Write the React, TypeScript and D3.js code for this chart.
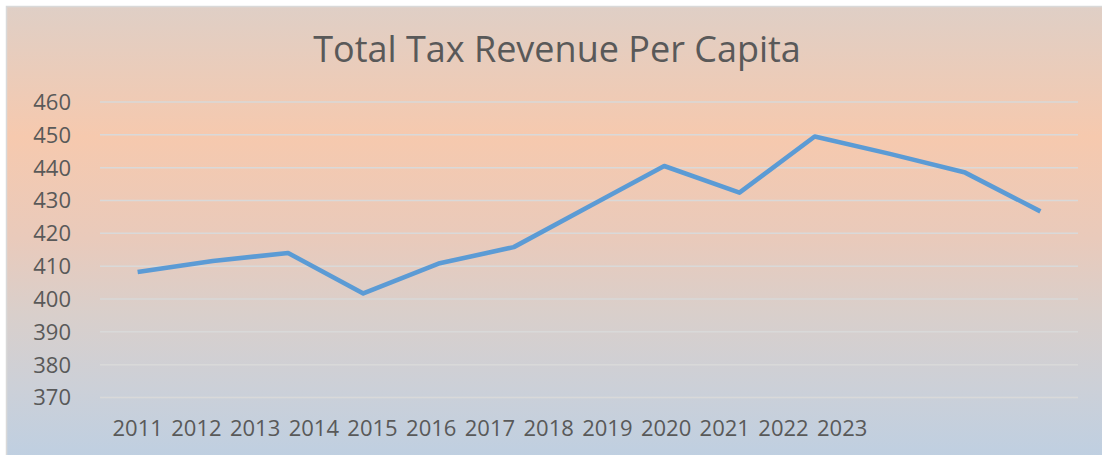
import React from "react";
import * as d3 from "d3";

const years = ["2011","2012","2013","2014","2015","2016","2017","2018","2019","2020","2021","2022","2023"];
const revenue = [408.2, 411.6, 414.0, 401.7, 410.8, 415.8, 428.2, 440.5, 432.4, 449.5, 444.2, 438.5, 426.7];
const yTicks = [370, 380, 390, 400, 410, 420, 430, 440, 450, 460];
const title = "Total Tax Revenue Per Capita";

const W = 1102;
const H = 455;

export default function App() {
  const x = d3.scaleBand<string>().domain(years).range([100, 1078]);
  const y = d3.scaleLinear().domain([370, 460]).range([397.5, 102]);
  // category labels are packed closer than the plot categories in the reference
  const xl = d3.scalePoint<string>().domain(years).range([137.7, 842.2]);

  const line = d3
    .line<number>()
    .x((_, i) => (x(years[i]) as number) + x.bandwidth() / 2)
    .y((d) => y(d));

  const font = "'Open Sans', 'Noto Sans', sans-serif";
  const textColor = "#595959";

  return (
    <svg width={W} height={H} style={{ position: "absolute", left: 0, top: 0 }}>
      <defs>
        <linearGradient id="bg" x1="0" y1="0" x2="0" y2="1">
          <stop offset="0" stopColor="#dfcfc6" />
          <stop offset="0.28" stopColor="#f6c9ae" />
          <stop offset="0.5" stopColor="#e9cabb" />
          <stop offset="0.66" stopColor="#d9cfcb" />
          <stop offset="0.82" stopColor="#ccd0d8" />
          <stop offset="1" stopColor="#bccfe3" />
        </linearGradient>
      </defs>
      <rect x={0} y={0} width={W} height={H} fill="#ffffff" />
      <rect x={6.5} y={6.5} width={W + 10} height={H + 10} fill="url(#bg)" stroke="#d9d9d9" strokeWidth={1.5} />
      <text
        x={557}
        y={62}
        textAnchor="middle"
        fontFamily={font}
        fontSize={36}
        fill={textColor}
      >
        {title}
      </text>
      {yTicks.map((t) => (
        <g key={t}>
          <line x1={100} x2={1078} y1={y(t)} y2={y(t)} stroke="#d9d9d9" strokeWidth={1.5} />
          <text
            x={71}
            y={y(t)}
            dy="0.36em"
            textAnchor="end"
            fontFamily={font}
            fontSize={22}
            fill={textColor}
          >
            {t}
          </text>
        </g>
      ))}
      {years.map((yr) => (
        <text
          key={yr}
          x={xl(yr)}
          y={435.5}
          textAnchor="middle"
          fontFamily={font}
          fontSize={22}
          fill={textColor}
        >
          {yr}
        </text>
      ))}
      <path
        d={line(revenue) || ""}
        fill="none"
        stroke="#5b9bd5"
        strokeWidth={4.6}
        strokeLinejoin="round"
        strokeLinecap="butt"
      />
    </svg>
  );
}
